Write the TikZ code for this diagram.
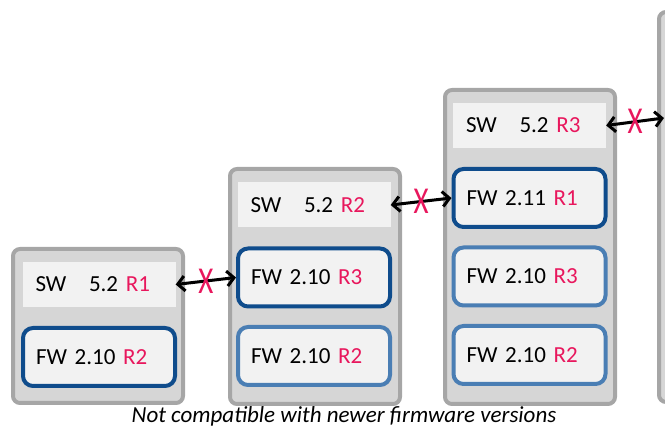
\documentclass[tikz,border=0pt]{standalone}
\usepackage{fontspec}
\setmainfont{Carlito}
\usepackage{tikz}
\usetikzlibrary{arrows.meta,shapes}
\definecolor{unitgray}{HTML}{D6D6D6}
\definecolor{unitedge}{HTML}{A6A6A6}
\definecolor{hdrgray}{HTML}{F2F2F2}
\definecolor{fwdark}{HTML}{0F4C8C}
\definecolor{fwlight}{HTML}{4A7EB4}
\definecolor{revred}{HTML}{E8175D}
\tikzstyle{unit}=[rectangle,rounded corners=7pt,draw=unitedge,fill=unitgray,line width=4pt,minimum width=170pt]
\tikzstyle{sw}=[rectangle,fill=hdrgray,minimum height=45pt,text width=127pt,inner xsep=13pt,align=left]
\tikzstyle{fw}=[rectangle,rounded corners=10pt,fill=hdrgray,line width=4pt,minimum height=58pt,text width=126pt,inner xsep=13pt,align=left]
\tikzstyle{fwnew}=[fw,draw=fwdark]
\tikzstyle{fwold}=[fw,draw=fwlight]
\tikzstyle{link}=[line width=3pt,{Straight Barb[length=7pt,width=15pt]}-{Straight Barb[length=7pt,width=15pt]}]
\tikzstyle{nope}=[text=revred,inner sep=0pt,font=\fontsize{38}{38}\selectfont]
\newcommand{\rev}[1]{\textcolor{revred}{#1}}
\newcommand{\swtag}[1]{SW\hspace{15pt} 5.2 \rev{#1}}
\newcommand{\nox}{\scalebox{0.76}[1]{X}}

\begin{document}
\begin{tikzpicture}[x=1pt,y=-1pt,node distance=78.5pt,font=\fontsize{23}{28}\selectfont]
          \useasboundingbox (0,0) rectangle (665,430);
          \clip (0,0) rectangle (665,430);

          % hardware units
          \node[unit,minimum height=154pt] (u1) at (98,326) {};
          \node[unit,minimum height=235pt] (u2) at (315,286.5) {};
          \node[unit,minimum height=314pt] (u3) at (530,247) {};
          \node[unit,minimum height=390pt] (u4) at (744,207) {};

          \node[sw]     (s1) at (99,284.5) {\swtag{R1}};
          \node[fwnew]  (f1a) [below of=s1,yshift=6pt] {FW 2.10 \rev{R2}};

          \node[sw]     (s2) at (314,205) {\swtag{R2}};
          \node[fwnew]  (f2a) [below of=s2,yshift=6pt] {FW 2.10 \rev{R3}};
          \node[fwold]  (f2b) [below of=f2a] {FW 2.10 \rev{R2}};

          \node[sw]     (s3) at (529.5,125.5) {\swtag{R3}};
          \node[fwnew]  (f3a) [below of=s3,yshift=6pt] {FW 2.11 \rev{R1}};
          \node[fwold]  (f3b) [below of=f3a] {FW 2.10 \rev{R3}};
          \node[fwold]  (f3c) [below of=f3b] {FW 2.10 \rev{R2}};

          \coordinate (f4) at (664,118);

          \path[link]   (s1.east) edge node[nope] {\nox} (f2a.west);
          \path[link]   (s2.east) edge node[nope] {\nox} (f3a.west);
          \path[link]   (s3.east) edge node[nope] {\nox} (f4);

          \node[anchor=base,font=\fontsize{23}{28}\selectfont\itshape] (cap) at (344,423) {Not compatible with newer firmware versions};
        \end{tikzpicture}
\end{document}
